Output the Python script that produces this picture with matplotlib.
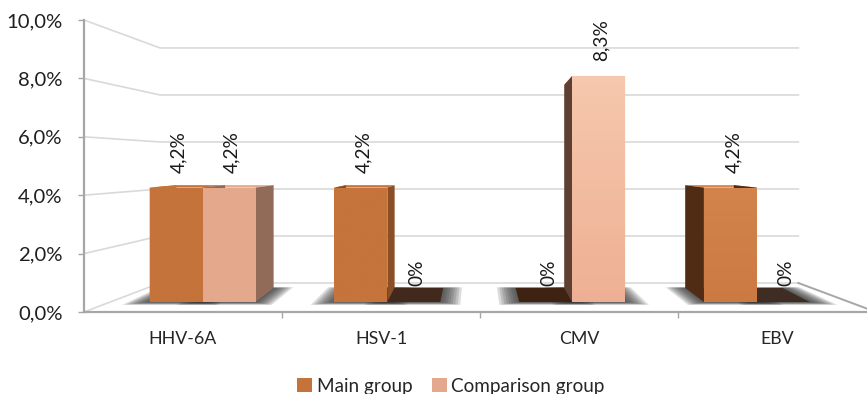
import numpy as np
import matplotlib
matplotlib.use('Agg')
import matplotlib.pyplot as plt
from matplotlib.patches import Polygon, Patch
from matplotlib.colors import to_rgb

plt.rcParams['font.family'] = ['Lato', 'DejaVu Sans']

categories = ['HHV-6A', 'HSV-1', 'CMV', 'EBV']
series_names = ['Main group', 'Comparison group']
main_values = [4.2, 4.2, 0, 4.2]
comp_values = [4.2, 0, 8.3, 0]
main_labels = ['4,2%', '4,2%', '0%', '4,2%']
comp_labels = ['4,2%', '0%', '8,3%', '0%']
y_ticks = [0, 2, 4, 6, 8, 10]
y_labels = ['0,0%', '2,0%', '4,0%', '6,0%', '8,0%', '10,0%']

# colours per bar: (top of front, bottom of front, side)
main_cols = [('#c4733a', '#c4733a', '#c4733a'),
             ('#c5743b', '#c5743b', '#8a4f26'),
             ('#3f2312', '#3f2312', '#3f2312'),
             ('#d2844c', '#cb7a42', '#4f2c13')]
comp_cols = [('#e4a88c', '#e4a88c', '#916b57'),
             ('#42291d', '#42291d', '#42291d'),
             ('#f6c8ad', '#eeb094', '#5e4033'),
             ('#3f2d24', '#3f2d24', '#3f2d24')]
legend_cols = ['#c4733a', '#e4a88c']

W, H = 867, 394
X0, X1, Y0, Y1 = 84, 867, 312, 20
fig = plt.figure(figsize=(W/100, H/100), dpi=100)
ax = fig.add_axes([X0/W, 1-Y0/H, (X1-X0)/W, (Y0-Y1)/H])

D_FRONT = 0.345   # depth of the bars front face
D_BACK = 0.83     # depth of the bars back face
DX_BACK = 0.74    # same, for the sideways shift
BAR_W = 0.2865


def proj(u, v, d, dx=None):
    # category unit u, percent v, depth d (0 front of floor, 1 back wall)
    if dx is None:
        dx = d
    x = u*(1-dx*0.194) + dx*0.384
    y = d*0.993 + v*(1-d*0.195)
    return x, y


def back(u, v, e=0):
    return proj(u, v, D_BACK+e, DX_BACK+e)


def face(pts, color, z, alpha=1.0, lw=0):
    ax.add_patch(Polygon(pts, closed=True, fc=color, ec=color, lw=lw, alpha=alpha, zorder=z))


# walls
for v in y_ticks:
    ax.plot(*zip(proj(0, v, 0), proj(0, v, 1), proj(4, v, 1)), color='#d9d9d9', lw=1.2, zorder=1)
ax.plot(*zip(proj(4, 0, 1), proj(4, 0, 0)), color='#a6a6a6', lw=1.4, zorder=1)

# collect bars
us, vals, cols, labs = [], [], [], []
for i in range(len(categories)):
    us += [i+0.5-BAR_W, i+0.5]
    vals += [main_values[i], comp_values[i]]
    cols += [main_cols[i], comp_cols[i]]
    labs += [main_labels[i], comp_labels[i]]

# floor shadows
for u, v in zip(us, vals):
    for e in np.linspace(0.11, 0.0, 9):
        face([proj(u-e, 0, D_FRONT-e*0.9), proj(u+BAR_W+e, 0, D_FRONT-e*0.9),
              back(u+BAR_W+e, 0, e*0.2), back(u-e, 0, e*0.2)],
             '#2e2e2e', 2, alpha=0.16)

# top, then side faces
for u, v, c in zip(us, vals, cols):
    r = u+BAR_W
    if v > 0:
        face([proj(u, v, D_FRONT), proj(r, v, D_FRONT), back(r, v), back(u, v)], c[0], 3)
        face([proj(u, 0, D_FRONT), proj(u, v, D_FRONT), back(u, v), back(u, 0)], c[2], 3)
        face([proj(r, 0, D_FRONT), proj(r, v, D_FRONT), back(r, v), back(r, 0)], c[2], 3)
    else:
        face([proj(u, 0, D_FRONT), proj(r, 0, D_FRONT), back(r, 0), back(u, 0)], c[2], 3)

# front faces
for u, v, c, t in zip(us, vals, cols, labs):
    xl, yb = proj(u, 0, D_FRONT)
    xr, yt = proj(u+BAR_W, v, D_FRONT)
    xc = (xl+xr)/2
    if v > 0:
        bar = ax.bar(xl, yt-yb, width=xr-xl, bottom=yb, align='edge', color=c[0], lw=0, zorder=4)[0]
        grad = np.linspace(to_rgb(c[0]), to_rgb(c[1]), 64).reshape(64, 1, 3)
        im = ax.imshow(grad, extent=[xl, xr, yb, yt], origin='upper', aspect='auto', zorder=5)
        im.set_clip_path(bar)
    ax.annotate(t, (xc, yt if v > 0 else yb), xytext=(2, 10.4 if v > 0 else 11.4), textcoords='offset points',
                rotation=90, ha='center', va='bottom', fontsize=13.8, color='#1a1a1a', zorder=6)

ax.set_xlim(0, (X1-X0)/198)
ax.set_ylim(0, 10)
ax.set_yticks(y_ticks)
ax.set_yticklabels(y_labels, fontsize=14.6, color='#1f1f1f')
ax.set_xticks(range(1, 4))
ax.set_xticklabels([])
ax.set_xticks([i+0.5 for i in range(len(categories))], minor=True)
ax.set_xticklabels(categories, minor=True, fontsize=12.8, color='#262626')
ax.tick_params(axis='x', which='minor', length=0, pad=14)
ax.tick_params(axis='x', which='major', length=4, color='#a6a6a6', width=1)
ax.tick_params(axis='y', length=4, color='#a6a6a6', width=1, pad=11.5)
for s in ['top', 'right']:
    ax.spines[s].set_visible(False)
for s in ['left', 'bottom']:
    ax.spines[s].set_color('#a6a6a6')
    ax.spines[s].set_linewidth(1.6)
    ax.spines[s].set_zorder(7)

handles = [Patch(fc=c, ec='none') for c in legend_cols]
fig.legend(handles, series_names, loc='lower center', bbox_to_anchor=(451/W, -0.045), ncol=2, frameon=False,
           fontsize=13.6, handlelength=0.8, handleheight=0.8, handletextpad=0.25, columnspacing=1.0,
           labelcolor='#262626')

fig.savefig('out.png', dpi=100)
